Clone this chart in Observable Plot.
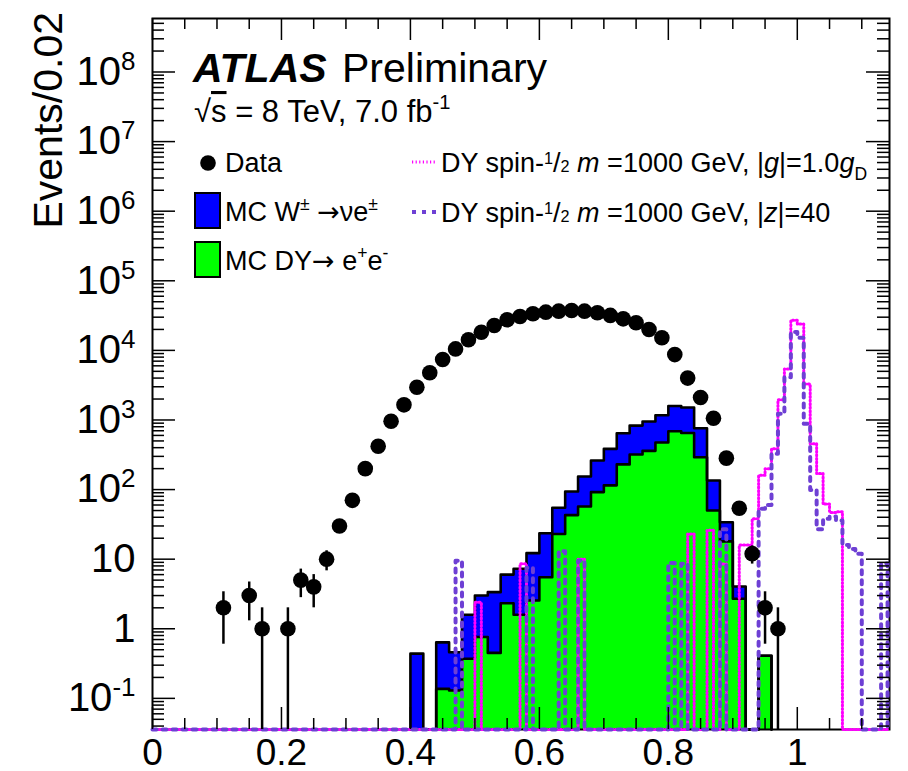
<!DOCTYPE html>
<html>
<head>
<meta charset="utf-8">
<script src="https://cdn.jsdelivr.net/npm/d3@7"></script>
<script src="https://cdn.jsdelivr.net/npm/@observablehq/plot@0.6"></script>
<style>
  html, body { margin: 0; padding: 0; background: #ffffff; }
  #chart { width: 908px; height: 771px; }
</style>
</head>
<body>
<div id="chart"></div>
<script>
// ---------------- data ----------------
// Data points: bin centres (bin width 0.02), events, error half-widths
const dataX = [0.11,0.15,0.17,0.21,0.23,0.25,0.27,0.29,0.31,0.33,0.35,0.37,0.39,0.41,0.43,0.45,0.47,0.49,0.51,0.53,0.55,0.57,0.59,0.61,0.63,0.65,0.67,0.69,0.71,0.73,0.75,0.77,0.79,0.81,0.83,0.85,0.87,0.89,0.91,0.93,0.95,0.97];
const dataY = [2,3,1,1,5,4,10,30,70,200,420,960,1650,2960,4770,7400,10500,14200,18200,22800,27500,30700,33600,35400,36600,37400,36600,34700,31800,28400,24900,20000,15200,8700,4000,2100,1060,283,54,12,2,1];
const dataErr = [1.4,1.7,1,1,2.2,2,3.2,5.5,8.4,14,20,31,41,54,69,86,102,119,135,151,166,175,183,188,191,193,191,186,178,169,158,141,123,93,63,46,33,17,7.3,3.5,1.4,1];

// MC stack: bin low edges (width 0.02), DY->ee (green) and W->enu (blue) contributions
const mcBinLow = [0.40,0.42,0.44,0.46,0.48,0.50,0.52,0.54,0.56,0.58,0.60,0.62,0.64,0.66,0.68,0.70,0.72,0.74,0.76,0.78,0.80,0.82,0.84,0.86,0.88,0.90,0.92,0.94];
const mcDY = [0,0,0.137,0.13,0.37,0.76,0.45,2.33,1.59,2.55,5.5,23,43,57,92,115,230,319,360,475,690,650,292,50,18,2.7,0,0.41];
const mcW  = [0.44,0,0.50,0.33,1.22,2.24,2.91,3.67,5.7,9.65,18.1,31.7,51,97,170,270,416,511,590,695,900,860,468,85,16,1.35,0,0];

// Signal histograms (bin width 0.01): non-empty bins only, all other bins are empty
const gBin = [0.50,0.57,0.66,0.83,0.86,0.88,0.91,0.92,0.93,0.94,0.95,0.96,0.97,0.98,0.99,1.00,1.01,1.02,1.03,1.04,1.05,1.06];
const gVal = [2.4,8.6,10,23,26,8.5,16,16,38,160,200,385,1950,5400,27000,24000,3300,455,170,62,47,48];
const zBin = [0.47,0.58,0.63,0.66,0.80,0.82,0.88,0.94,0.95,0.96,0.97,0.98,0.99,1.00,1.01,1.02,1.03,1.04,1.05,1.06,1.07,1.08,1.09,1.13];
const zVal = [9.5,7.5,13,9.5,8.8,8.6,27,53,60,327,1230,4100,18300,15200,880,99,27,38,41,36,16,14,12,8.7];

// Axis ticks and labels
const xMajor = [0, 0.2, 0.4, 0.6, 0.8, 1];
const xMinor = [0.05,0.1,0.15,0.25,0.3,0.35,0.45,0.5,0.55,0.65,0.7,0.75,0.85,0.9,0.95,1.05,1.1];
const yMajor = [0.1, 1, 10, 1e2, 1e3, 1e4, 1e5, 1e6, 1e7, 1e8];
const yLabels = ["10^-1","1","10","10^2","10^3","10^4","10^5","10^6","10^7","10^8"];
const yMinorMult = [2,3,4,5,6,7,8,9];
const yMinorDecades = [0.01,0.1,1,10,1e2,1e3,1e4,1e5,1e6,1e7,1e8];

// ---------------- layout ----------------
const W = 908, H = 771, ML = 152, MR = 19, MT = 18, MB = 42;
const PH = H - MT - MB, PW = W - ML - MR;
const X_MAX = 1.143, Y_MIN = 0.0357, Y_MAX = 5.87e8;
const FONT = '"Liberation Sans", Arial, Helvetica, sans-serif';
const BLUE = "#0000ff", GREEN = "#00ff00", MAGENTA = "#ff00ff", VIOLET = "#6e40d4";

// ---------------- derived tables ----------------
const dataRows = dataX.map((x, i) => ({x, y: dataY[i], e: dataErr[i]}));
const MC_W = 0.02;
const mcRows = mcBinLow.map((x, i) => ({x1: x, x2: +(x + MC_W).toFixed(2), dy: mcDY[i], tot: mcDY[i] + mcW[i]}));

function outline(rows, key) {
  const pts = [{x: rows[0].x1, y: Y_MIN}];
  rows.forEach(r => pts.push({x: r.x1, y: Math.max(r[key], Y_MIN)}));
  const last = rows[rows.length - 1];
  pts.push({x: last.x2, y: Y_MIN});
  return pts;
}
const totLine = outline(mcRows, "tot");
const dyLine = outline(mcRows, "dy");

const sigGrid = d3.range(0, 114).map(i => i / 100);   // bin low edges 0.00 ... 1.13
function sigLine(bins, vals) {
  const m = new Map(bins.map((b, i) => [Math.round(b * 100), vals[i]]));
  const pts = sigGrid.map(x => ({x, y: Math.max(m.get(Math.round(x * 100)) ?? 0, Y_MIN)}));
  const lastV = pts[pts.length - 1].y;
  pts.push({x: 1.14, y: lastV});
  pts.push({x: 1.14, y: Y_MIN});
  pts.push({x: X_MAX, y: Y_MIN});
  return pts;
}
const gLine = sigLine(gBin, gVal);
const zLine = sigLine(zBin, zVal);

const yMinor = [];
yMinorDecades.forEach(d => yMinorMult.forEach(m => {
  const v = d * m;
  if (v > Y_MIN && v < Y_MAX) yMinor.push(v);
}));

// ---------------- plot ----------------
const plot = Plot.plot({
  width: W, height: H,
  marginLeft: ML, marginRight: MR, marginTop: MT, marginBottom: MB,
  style: {background: "white", fontFamily: FONT, color: "black", overflow: "visible"},
  x: {domain: [0, X_MAX]},
  y: {type: "log", domain: [Y_MIN, Y_MAX]},
  marks: [
    // stacked MC fills
    Plot.rectY(mcRows.filter(d => d.tot > 0), {x1: "x1", x2: "x2", y1: Y_MIN, y2: "tot", fill: BLUE, shapeRendering: "crispEdges"}),
    Plot.rectY(mcRows.filter(d => d.dy > 0), {x1: "x1", x2: "x2", y1: Y_MIN, y2: "dy", fill: GREEN, shapeRendering: "crispEdges"}),
    Plot.line(totLine, {x: "x", y: "y", curve: "step-after", stroke: "black", strokeWidth: 2.6}),
    Plot.line(dyLine, {x: "x", y: "y", curve: "step-after", stroke: "black", strokeWidth: 2.6}),
    // frame
    Plot.frame({stroke: "black", strokeWidth: 2}),
    // signals
    Plot.line(gLine, {x: "x", y: "y", curve: "step-after", stroke: MAGENTA, strokeWidth: 3, strokeDasharray: "1.2,2.4"}),
    Plot.line(zLine, {x: "x", y: "y", curve: "step-after", stroke: VIOLET, strokeWidth: 4, strokeDasharray: "4,6"}),
    // data
    Plot.ruleX(dataRows, {x: "x", y1: d => Math.max(d.y - d.e, Y_MIN), y2: d => d.y + d.e, stroke: "black", strokeWidth: 2.5}),
    Plot.dot(dataRows, {x: "x", y: "y", r: 7.8, fill: "black", stroke: "none"}),
    // ticks (inward, on all four sides)
    Plot.tickX(xMajor, {x: d => d, insetTop: PH - 22, stroke: "black", strokeWidth: 1.5}),
    Plot.tickX(xMinor, {x: d => d, insetTop: PH - 11, stroke: "black", strokeWidth: 1.5}),
    Plot.tickX(xMajor, {x: d => d, insetBottom: PH - 22, stroke: "black", strokeWidth: 1.5}),
    Plot.tickX(xMinor, {x: d => d, insetBottom: PH - 11, stroke: "black", strokeWidth: 1.5}),
    Plot.tickY(yMajor, {y: d => d, insetRight: PW - 23, stroke: "black", strokeWidth: 1.5}),
    Plot.tickY(yMinor, {y: d => d, insetRight: PW - 12, stroke: "black", strokeWidth: 1.5}),
    Plot.tickY(yMajor, {y: d => d, insetLeft: PW - 23, stroke: "black", strokeWidth: 1.5}),
    Plot.tickY(yMinor, {y: d => d, insetLeft: PW - 12, stroke: "black", strokeWidth: 1.5}),
    // tick labels
    Plot.axisX(xMajor, {tickSize: 0, tickPadding: 9, fontSize: 37, tickFormat: d => String(d), label: null}),
    Plot.axisY(yMajor, {tickSize: 0, tickPadding: 17, fontSize: 40, tickFormat: d => yLabels[yMajor.indexOf(d)], label: null})
  ]
});
document.getElementById("chart").appendChild(plot);

// ---------------- text post-processing & annotations ----------------
const svg = d3.select(plot);

// superscripts on y tick labels
svg.selectAll('g[aria-label="y-axis tick label"] text').each(function () {
  const s = this.textContent;
  const m = s.match(/^10\^(-?\d+)$/);
  if (m) {
    const t = d3.select(this);
    t.text(null);
    t.append("tspan").text("10");
    t.append("tspan").attr("dy", -15).attr("font-size", 26).text(m[1]);
  }
});

const ann = svg.append("g").attr("font-family", FONT).attr("fill", "black").attr("text-anchor", "start");

function richText(parent, x, y, size, parts) {
  const t = parent.append("text").attr("x", x).attr("y", y).attr("font-size", size).attr("text-anchor", "start");
  let shift = 0;
  for (const p of parts) {
    const s = t.append("tspan").text(p.t);
    let target = 0, fs = size;
    if (p.sup) { target = -size * (p.raise ?? 0.42); fs = size * (p.scale ?? 0.65); }
    if (p.sub) { target = size * 0.28; fs = size * 0.65; }
    if (target !== shift) { s.attr("dy", target - shift); shift = target; }
    if (fs !== size) s.attr("font-size", fs);
    if (p.it) s.attr("font-style", "italic");
    if (p.bold) s.attr("font-weight", "bold");
    if (p.over) s.attr("text-decoration", "overline");
    if (p.sym) s.attr("font-family", '"DejaVu Sans", sans-serif');
  }
  return t;
}

// y axis title
ann.append("text")
  .attr("transform", "translate(62,12) rotate(-90)")
  .attr("text-anchor", "end")
  .attr("font-size", 41)
  .text("Events/0.02");

// ATLAS label
richText(ann, 193, 82, 41, [{t: "ATLAS", bold: true, it: true}]);
richText(ann, 342, 82, 41, [{t: "Preliminary"}]);
richText(ann, 194, 122, 31, [{t: "\u221A"}, {t: "s", over: true}, {t: " = 8 TeV, 7.0 fb"}, {t: "-1", sup: true}]);

// legend, left column
ann.append("circle").attr("cx", 208).attr("cy", 163).attr("r", 7.8).attr("fill", "black");
richText(ann, 225, 172, 27, [{t: "Data"}]);
ann.append("rect").attr("x", 195).attr("y", 193).attr("width", 25).attr("height", 35)
  .attr("fill", BLUE).attr("stroke", "black").attr("stroke-width", 2);
richText(ann, 225, 221, 27, [{t: "MC W"}, {t: "\u00B1", sup: true}, {t: " "}, {t: "\u2192", sym: true}, {t: "\u03BDe"}, {t: "\u00B1", sup: true}]);
ann.append("rect").attr("x", 195).attr("y", 242).attr("width", 25).attr("height", 35)
  .attr("fill", GREEN).attr("stroke", "black").attr("stroke-width", 2);
richText(ann, 225, 270, 27, [{t: "MC DY"}, {t: "\u2192", sym: true}, {t: " e"}, {t: "+", sup: true}, {t: "e"}, {t: "-", sup: true}]);

// legend, right column
ann.append("line").attr("x1", 412).attr("x2", 436).attr("y1", 162).attr("y2", 162)
  .attr("stroke", MAGENTA).attr("stroke-width", 3).attr("stroke-dasharray", "1.2,2.4");
richText(ann, 441, 172, 27, [
  {t: "DY spin-"}, {t: "1", sup: true, raise: 0.3, scale: 0.6}, {t: "/"}, {t: "2", sup: true, raise: 0, scale: 0.6},
  {t: " "}, {t: "m", it: true}, {t: " =1000 GeV, "}, {t: "|"}, {t: "g", it: true}, {t: "|=1.0"}, {t: "g", it: true}, {t: "D", sub: true}
]);
ann.append("line").attr("x1", 412).attr("x2", 436).attr("y1", 212).attr("y2", 212)
  .attr("stroke", VIOLET).attr("stroke-width", 4).attr("stroke-dasharray", "4,6");
richText(ann, 441, 222, 27, [
  {t: "DY spin-"}, {t: "1", sup: true, raise: 0.3, scale: 0.6}, {t: "/"}, {t: "2", sup: true, raise: 0, scale: 0.6},
  {t: " "}, {t: "m", it: true}, {t: " =1000 GeV, "}, {t: "|"}, {t: "z", it: true}, {t: "|=40"}
]);
</script>
</body>
</html>
